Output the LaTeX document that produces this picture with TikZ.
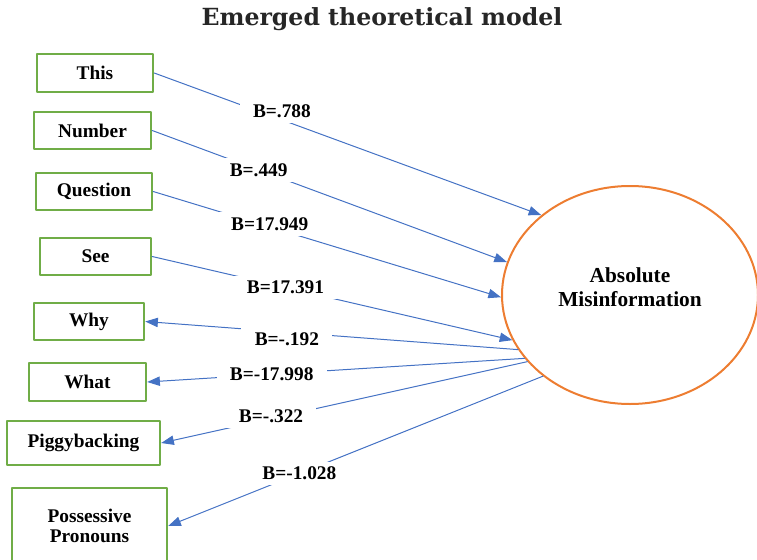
\documentclass[tikz,border=0pt]{standalone}
\usepackage{fontspec}
\setmainfont{Liberation Serif}
\newfontfamily\titlefont{DejaVu Serif}
\usetikzlibrary{shapes.geometric,arrows.meta}
\definecolor{boxgreen}{HTML}{70AD47}
\definecolor{rimorange}{HTML}{ED7D31}
\definecolor{linkblue}{HTML}{4472C4}

\begin{document}
\begin{tikzpicture}[x=.75pt, y=-.75pt, line cap=round, line join=round]
  \tikzset{var/.style={draw=boxgreen, line width=1.8pt, align=center, inner sep=0pt, font=\fontsize{14.5}{15.5}\selectfont\bfseries},
    outcome/.style={ellipse, draw=rimorange, line width=1.5pt, inner sep=0pt},
    link/.style={draw=linkblue, line width=.75pt, -{Triangle[length=9.5pt,width=7pt]}},
    coef/.style={fill=white, inner xsep=10pt, inner ysep=4pt, font=\fontsize{14.5}{16}\selectfont\bfseries}}
  \useasboundingbox (0,0) rectangle (757,560);

  \node[font=\titlefont\fontsize{17.7}{20}\selectfont\bfseries, text=black!85] (title) at (382,19) {Emerged theoretical model};

  % predictor boxes, in pixel coordinates of the original figure
  \foreach \nm/\x/\y/\w/\h/\txt in {this/95/73/116/38/This, number/92.5/130.5/117/37/Number,
      question/94/191.5/116/37/Question, see/95.5/256.5/111/37/See, why/89/321.5/110/37/Why,
      what/87.5/382/117/38/What, piggy/83.5/443/153/44/Piggybacking,
      poss/89.5/526/155/76/{Possessive\\Pronouns}} {
    \node[var, minimum width=\w*.75pt, minimum height=\h*.75pt] (\nm) at (\x,\y) {\txt};
  }

  \node[outcome, minimum width=192pt, minimum height=163.5pt] (am) at (630,295) {};
  \node[align=center, font=\fontsize{16}{18}\selectfont\bfseries] (amtext) at ([yshift=6pt]am.center) {Absolute\\Misinformation};

  % incoming paths: box -> outcome
  \foreach \src/\ang/\val/\p/\dy in {this/138/.788/.33/6.5, number/165/.449/.30/0, question/181/17.949/.335/2, see/201/17.391/.37/0} {
    \draw[link] (\src.east) -- node[coef, pos=\p, yshift=\dy pt] {B=\val} (am.\ang);
  }

  % outgoing paths: outcome -> box
  \foreach \dst/\ang/\val/\p/\dy in {why/206/-.192/.62/-5, what/211/-17.998/.67/0, piggy/213/-.322/.70/2, poss/223/-1.028/.65/0} {
    \draw[link] (am.\ang) -- node[coef, pos=\p, yshift=\dy pt] {B=\val} (\dst.east);
  }
\end{tikzpicture}
\end{document}
